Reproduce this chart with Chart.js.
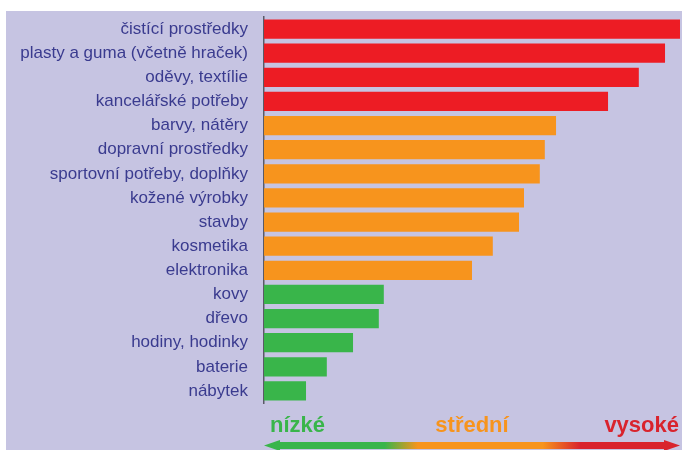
<!DOCTYPE html>
<html>
<head>
<meta charset="utf-8">
<script src="https://cdn.jsdelivr.net/npm/chart.js@4"></script>
<style>
  body { margin: 0; background: #fff; }
  #wrap { width: 682px; height: 450px; }
</style>
</head>
<body>
<div id="wrap"><canvas id="graf"></canvas></div>
<script>
// kategorie a hodnoty (odhad z obrazku)
const kategorie = [
  'čistící prostředky',
  'plasty a guma (včetně hraček)',
  'oděvy, textílie',
  'kancelářské potřeby',
  'barvy, nátěry',
  'dopravní prostředky',
  'sportovní potřeby, doplňky',
  'kožené výrobky',
  'stavby',
  'kosmetika',
  'elektronika',
  'kovy',
  'dřevo',
  'hodiny, hodinky',
  'baterie',
  'nábytek'
];
const hodnoty = [100, 96.4, 90.1, 82.7, 70.2, 67.5, 66.3, 62.5, 61.3, 55, 50, 28.8, 27.6, 21.4, 15.1, 10.1];
const riziko = ['v', 'v', 'v', 'v', 's', 's', 's', 's', 's', 's', 's', 'n', 'n', 'n', 'n', 'n'];
const barvyRizika = { v: '#ed1c24', s: '#f7941d', n: '#39b54a' };
const legendaTexty = ['nízké', 'střední', 'vysoké'];

//------ pozadi panelu ------//
const pozadi = {
  id: 'pozadi',
  beforeDraw(chart) {
    const c = chart.ctx;
    c.save();
    c.fillStyle = '#c6c4e2';
    c.fillRect(6, 11, chart.width - 6, chart.height - 11);
    c.restore();
  }
};

//------ sipka s prechodem a popisky ------//
const sipka = {
  id: 'sipka',
  afterDraw(chart) {
    const c = chart.ctx;
    const a = chart.chartArea;
    const y = 445.5;
    c.save();
    const g = c.createLinearGradient(a.left, 0, a.right, 0);
    g.addColorStop(0, '#39b54a');
    g.addColorStop(0.29, '#39b54a');
    g.addColorStop(0.37, '#f7941d');
    g.addColorStop(0.67, '#f7941d');
    g.addColorStop(0.76, '#d9232d');
    g.addColorStop(1, '#d9232d');
    c.fillStyle = g;
    c.fillRect(a.left + 10, y - 3.5, a.right - a.left - 20, 7);
    c.beginPath();
    c.moveTo(a.left, y);
    c.lineTo(a.left + 16, y - 5.5);
    c.lineTo(a.left + 16, y + 5.5);
    c.closePath();
    c.fill();
    c.beginPath();
    c.moveTo(a.right, y);
    c.lineTo(a.right - 16, y - 5.5);
    c.lineTo(a.right - 16, y + 5.5);
    c.closePath();
    c.fill();

    c.font = 'bold 22px "Liberation Sans", Arial, sans-serif';
    c.textBaseline = 'alphabetic';
    c.fillStyle = '#39b54a';
    c.textAlign = 'left';
    c.fillText(legendaTexty[0], a.left + 6, 432);
    c.fillStyle = '#f7941d';
    c.textAlign = 'center';
    c.fillText(legendaTexty[1], 472, 432);
    c.fillStyle = '#d9232d';
    c.textAlign = 'right';
    c.fillText(legendaTexty[2], a.right - 1, 432);
    c.restore();
  }
};

const ctx = document.querySelector('#graf');
const graf = new Chart(ctx, {
  type: 'bar',
  data: {
    labels: kategorie,
    datasets: [{
      data: hodnoty,
      backgroundColor: riziko.map(r => barvyRizika[r]),
      borderWidth: 0,
      barPercentage: 0.8,
      categoryPercentage: 1
    }]
  },
  options: {
    indexAxis: 'y',
    responsive: true,
    maintainAspectRatio: false,
    animation: false,
    layout: { padding: { top: 17, right: 2, bottom: 47, left: 0 } },
    plugins: {
      legend: { display: false },
      tooltip: { enabled: false }
    },
    scales: {
      x: {
        display: false,
        min: 0,
        max: 100
      },
      y: {
        afterFit(s) {
          s.width = 264;
          s.paddingTop = 0;
          s.paddingBottom = 0;
        },
        grid: { display: false, drawTicks: false },
        border: { display: true, color: '#5a5a66', width: 1.5 },
        ticks: {
          padding: 16,
          color: '#3a3b8f',
          font: { family: '"Liberation Sans", Arial, sans-serif', size: 17 }
        }
      }
    }
  },
  plugins: [pozadi, sipka]
});
</script>
</body>
</html>
